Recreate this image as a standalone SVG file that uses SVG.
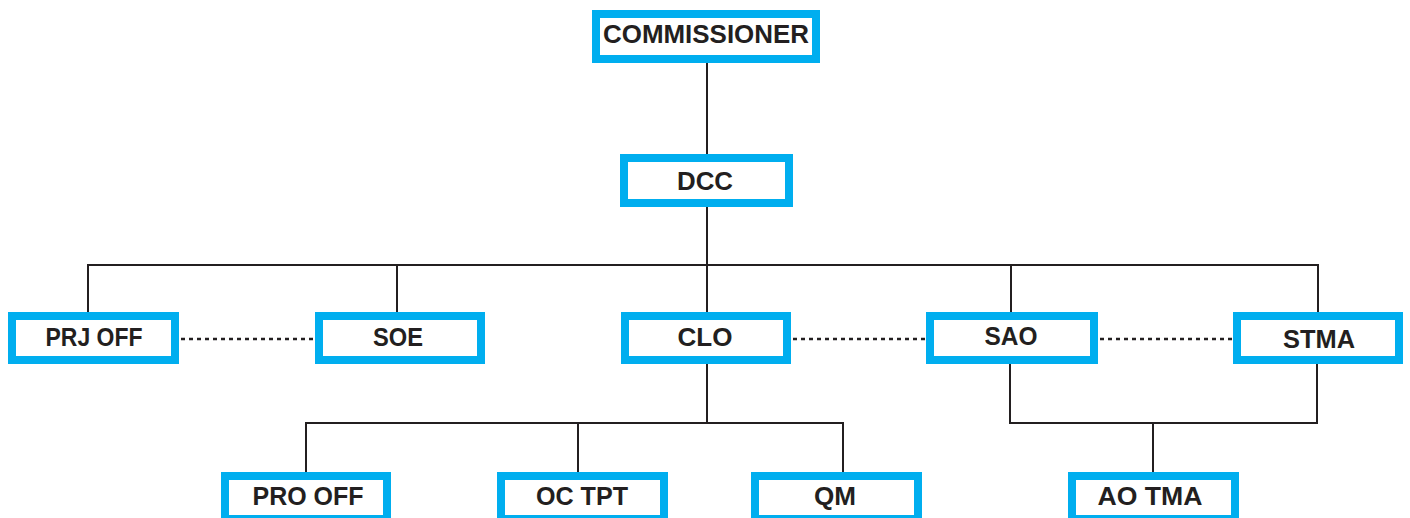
<svg xmlns="http://www.w3.org/2000/svg" width="1410" height="518" viewBox="0 0 1410 518">
  <style>
    .box { fill: #ffffff; stroke: #00aeef; stroke-width: 8; }
    .lbl { font-family: "Liberation Sans", Arial, sans-serif; font-weight: bold; font-size: 25px; fill: #231f20; text-anchor: middle; }
    .wire { fill: none; stroke: #231f20; stroke-width: 2; }
    .dot { fill: none; stroke: #231f20; stroke-width: 2.5; stroke-dasharray: 4 4; }
  </style>
  <rect width="1410" height="518" fill="#ffffff"/>

  <!-- reporting lines -->
  <g id="connectors">
    <path class="wire" d="M707 63 V154"/>
    <path class="wire" d="M707 207 V312"/>
    <path class="wire" d="M88 312 V265 H1318 V312"/>
    <path class="wire" d="M397 265 V312"/>
    <path class="wire" d="M1011 265 V312"/>
    <path class="wire" d="M707 364 V423"/>
    <path class="wire" d="M306 472 V423 H843 V472"/>
    <path class="wire" d="M578 423 V472"/>
    <path class="wire" d="M1010 364 V423 H1317 V364"/>
    <path class="wire" d="M1153 423 V472"/>
    <!-- liaison (dotted) links -->
    <path class="dot" d="M181 339 H315"/>
    <path class="dot" d="M793 339 H926"/>
    <path class="dot" d="M1100 339 H1233"/>
  </g>

  <g id="commissioner">
    <rect class="box" x="596" y="14" width="220" height="45"/>
    <text class="lbl" x="706" y="43" textLength="206" lengthAdjust="spacingAndGlyphs">COMMISSIONER</text>
  </g>
  <g id="dcc">
    <rect class="box" x="624" y="158" width="165" height="45"/>
    <text class="lbl" x="705" y="190" textLength="56" lengthAdjust="spacingAndGlyphs">DCC</text>
  </g>
  <g id="prj-off">
    <rect class="box" x="12" y="316" width="163" height="44"/>
    <text class="lbl" x="94" y="346" textLength="97" lengthAdjust="spacingAndGlyphs">PRJ OFF</text>
  </g>
  <g id="soe">
    <rect class="box" x="319" y="316" width="162" height="44"/>
    <text class="lbl" x="398" y="346" textLength="50" lengthAdjust="spacingAndGlyphs">SOE</text>
  </g>
  <g id="clo">
    <rect class="box" x="625" y="316" width="162" height="44"/>
    <text class="lbl" x="705" y="346" textLength="55" lengthAdjust="spacingAndGlyphs">CLO</text>
  </g>
  <g id="sao">
    <rect class="box" x="930" y="316" width="164" height="44"/>
    <text class="lbl" x="1011" y="345" textLength="53" lengthAdjust="spacingAndGlyphs">SAO</text>
  </g>
  <g id="stma">
    <rect class="box" x="1237" y="316" width="162" height="44"/>
    <text class="lbl" x="1319" y="348" textLength="72" lengthAdjust="spacingAndGlyphs">STMA</text>
  </g>
  <g id="pro-off">
    <rect class="box" x="225" y="476" width="162" height="43"/>
    <text class="lbl" x="308" y="505" textLength="111" lengthAdjust="spacingAndGlyphs">PRO OFF</text>
  </g>
  <g id="oc-tpt">
    <rect class="box" x="501" y="476" width="163" height="43"/>
    <text class="lbl" x="582" y="505" textLength="92" lengthAdjust="spacingAndGlyphs">OC TPT</text>
  </g>
  <g id="qm">
    <rect class="box" x="755" y="476" width="163" height="43"/>
    <text class="lbl" x="835" y="505" textLength="42" lengthAdjust="spacingAndGlyphs">QM</text>
  </g>
  <g id="ao-tma">
    <rect class="box" x="1072" y="476" width="163" height="43"/>
    <text class="lbl" x="1150" y="505" textLength="105" lengthAdjust="spacingAndGlyphs">AO TMA</text>
  </g>
</svg>
